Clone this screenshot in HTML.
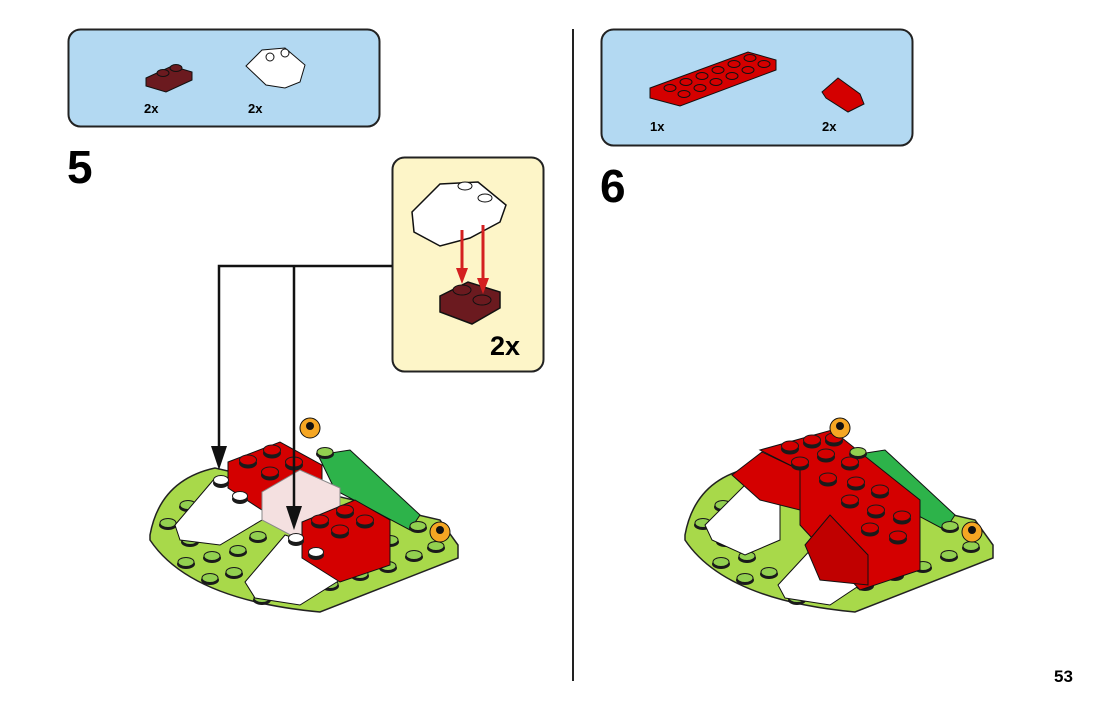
<!DOCTYPE html>
<html><head><style>
body{margin:0;width:1106px;height:709px;background:#fff;overflow:hidden;font-family:"Liberation Sans",Arial,sans-serif}
</style></head><body>
<svg width="1106" height="709" viewBox="0 0 1106 709" xmlns="http://www.w3.org/2000/svg" font-family="Liberation Sans, Arial, sans-serif">
<defs>
<g id="gs"><ellipse cx="0" cy="2" rx="9" ry="5" fill="#1a1a1a"/><ellipse cx="0" cy="0" rx="8" ry="4.5" fill="#92d050" stroke="#1a1a1a"/></g>
<g id="rs"><ellipse cx="0" cy="3" rx="9" ry="5.5" fill="#1a1a1a"/><ellipse cx="0" cy="0" rx="8.5" ry="5" fill="#d40000" stroke="#1a1a1a"/></g>
<g id="ws"><ellipse cx="0" cy="3" rx="8" ry="5" fill="#1a1a1a"/><ellipse cx="0" cy="0" rx="7.5" ry="4.5" fill="#fff" stroke="#1a1a1a"/></g>
</defs>
<!-- parts boxes -->
<rect x="68.5" y="29.5" width="311" height="97" rx="12" fill="#b3d9f2" stroke="#222" stroke-width="2"/>
<rect x="601.5" y="29.5" width="311" height="116" rx="12" fill="#b3d9f2" stroke="#222" stroke-width="2"/>
<line x1="573" y1="29" x2="573" y2="681" stroke="#222" stroke-width="2"/>
<!-- part left 1 -->
<polygon points="146,78 172,66 192,72 192,80 166,92 146,86" fill="#6b1a1f" stroke="#111"/>
<ellipse cx="163" cy="73" rx="6" ry="3.5" fill="#6b1a1f" stroke="#111"/><ellipse cx="176" cy="68" rx="6" ry="3.5" fill="#6b1a1f" stroke="#111"/>
<polygon points="246,66 262,50 285,48 305,65 300,82 285,88 266,85" fill="#fff" stroke="#111"/>
<circle cx="270" cy="57" r="4" fill="#fff" stroke="#111"/><circle cx="285" cy="53" r="4" fill="#fff" stroke="#111"/>
<text x="144" y="113" font-size="13" font-weight="bold">2x</text>
<text x="248" y="113" font-size="13" font-weight="bold">2x</text>
<!-- part right -->
<polygon points="650,88 748,52 776,60 776,70 680,106 650,98" fill="#d40000" stroke="#111"/>
<g fill="#d40000" stroke="#111"><ellipse cx="670" cy="88" rx="6" ry="3.5"/><ellipse cx="686" cy="82" rx="6" ry="3.5"/><ellipse cx="702" cy="76" rx="6" ry="3.5"/><ellipse cx="718" cy="70" rx="6" ry="3.5"/><ellipse cx="734" cy="64" rx="6" ry="3.5"/><ellipse cx="750" cy="58" rx="6" ry="3.5"/>
<ellipse cx="684" cy="94" rx="6" ry="3.5"/><ellipse cx="700" cy="88" rx="6" ry="3.5"/><ellipse cx="716" cy="82" rx="6" ry="3.5"/><ellipse cx="732" cy="76" rx="6" ry="3.5"/><ellipse cx="748" cy="70" rx="6" ry="3.5"/><ellipse cx="764" cy="64" rx="6" ry="3.5"/></g>
<polygon points="822,92 838,78 860,94 864,104 848,112 826,98" fill="#d40000" stroke="#111"/>
<text x="650" y="131" font-size="13" font-weight="bold">1x</text>
<text x="822" y="131" font-size="13" font-weight="bold">2x</text>
<text x="67" y="183" font-size="46" font-weight="bold">5</text>
<text x="600" y="202" font-size="46" font-weight="bold">6</text>
<text x="1054" y="682" font-size="17" font-weight="bold">53</text>
<!-- callout -->
<rect x="392.5" y="157.5" width="151" height="214" rx="12" fill="#fdf5c8" stroke="#222" stroke-width="2"/>
<polygon points="412,212 440,184 478,182 506,205 500,222 470,238 440,246 414,232" fill="#fff" stroke="#111" stroke-width="1.5"/>
<ellipse cx="465" cy="186" rx="7" ry="4" fill="#fff" stroke="#111"/><ellipse cx="485" cy="198" rx="7" ry="4" fill="#fff" stroke="#111"/>
<polygon points="440,296 468,282 500,292 500,308 472,324 440,312" fill="#6b1a1f" stroke="#111" stroke-width="1.5"/>
<ellipse cx="462" cy="290" rx="9" ry="5" fill="#6b1a1f" stroke="#111"/><ellipse cx="482" cy="300" rx="9" ry="5" fill="#6b1a1f" stroke="#111"/>
<line x1="462" y1="230" x2="462" y2="272" stroke="#d42020" stroke-width="3"/><polygon points="456,268 468,268 462,284" fill="#d42020"/>
<line x1="483" y1="225" x2="483" y2="282" stroke="#d42020" stroke-width="3"/><polygon points="477,278 489,278 483,294" fill="#d42020"/>
<text x="490" y="355" font-size="27" font-weight="bold">2x</text>
<!-- step 5 model -->
<path d="M150,535 Q160,480 215,468 L440,520 L458,545 L458,558 L320,612 Q190,600 150,540 Z" fill="#a8d94a" stroke="#222" stroke-width="1.5"/>
<polygon points="318,455 350,450 420,515 410,530 335,490" fill="#2db34a" stroke="#111"/>
<g>
<use href="#gs" x="168" y="523"/><use href="#gs" x="190" y="540"/><use href="#gs" x="212" y="556"/><use href="#gs" x="234" y="572"/><use href="#gs" x="262" y="598"/>
<use href="#gs" x="186" y="562"/><use href="#gs" x="210" y="578"/><use href="#gs" x="238" y="550"/><use href="#gs" x="290" y="593"/><use href="#gs" x="330" y="584"/><use href="#gs" x="360" y="574"/><use href="#gs" x="388" y="566"/><use href="#gs" x="414" y="555"/><use href="#gs" x="436" y="546"/><use href="#gs" x="390" y="540"/><use href="#gs" x="258" y="536"/><use href="#gs" x="188" y="505"/>
</g>
<polygon points="175,525 215,478 262,492 262,520 220,545 180,540" fill="#fff" stroke="#111"/>
<polygon points="228,462 280,442 322,465 322,492 265,512 228,488" fill="#d40000" stroke="#111"/>
<polygon points="262,492 300,470 340,488 340,520 300,540 262,520" fill="#f4e0e0" stroke="#888"/>
<use href="#rs" x="248" y="460"/><use href="#rs" x="272" y="450"/><use href="#rs" x="270" y="472"/><use href="#rs" x="294" y="462"/>
<use href="#ws" x="221" y="480"/><use href="#ws" x="240" y="496"/>
<polygon points="245,582 285,535 300,540 340,560 340,580 300,605 255,598" fill="#fff" stroke="#111"/>
<polygon points="302,522 355,500 390,520 390,565 340,582 302,558" fill="#d40000" stroke="#111"/>
<use href="#rs" x="320" y="520"/><use href="#rs" x="345" y="510"/><use href="#rs" x="340" y="530"/><use href="#rs" x="365" y="520"/>
<use href="#ws" x="296" y="538"/><use href="#ws" x="316" y="552"/>
<circle cx="310" cy="428" r="10" fill="#f5a623" stroke="#111"/><circle cx="310" cy="426" r="4" fill="#111"/>
<circle cx="440" cy="532" r="10" fill="#f5a623" stroke="#111"/><circle cx="440" cy="530" r="4" fill="#111"/>
<use href="#gs" x="325" y="452"/><use href="#gs" x="418" y="526"/>
<!-- arrows -->
<polyline points="392,266 219,266 219,452" fill="none" stroke="#111" stroke-width="2.5"/>
<polyline points="294,266 294,512" fill="none" stroke="#111" stroke-width="2.5"/>
<polygon points="211,446 227,446 219,470" fill="#111"/>
<polygon points="286,506 302,506 294,530" fill="#111"/>
<!-- step 6 model -->
<path d="M685,535 Q695,480 750,468 L975,520 L993,545 L993,558 L855,612 Q725,600 685,540 Z" fill="#a8d94a" stroke="#222" stroke-width="1.5"/>
<polygon points="853,455 885,450 955,515 945,530 870,490" fill="#2db34a" stroke="#111"/>
<use href="#gs" x="703" y="523"/><use href="#gs" x="725" y="540"/><use href="#gs" x="747" y="556"/><use href="#gs" x="769" y="572"/><use href="#gs" x="797" y="598"/>
<use href="#gs" x="721" y="562"/><use href="#gs" x="745" y="578"/><use href="#gs" x="825" y="593"/><use href="#gs" x="865" y="584"/><use href="#gs" x="895" y="574"/><use href="#gs" x="923" y="566"/><use href="#gs" x="949" y="555"/><use href="#gs" x="971" y="546"/><use href="#gs" x="723" y="505"/>
<polygon points="705,525 745,485 780,500 780,540 745,555 712,540" fill="#fff" stroke="#111"/>
<polygon points="778,585 815,545 840,555 860,585 830,605 785,598" fill="#fff" stroke="#111"/>
<polygon points="732,475 762,452 800,470 800,510 760,500" fill="#d40000" stroke="#111"/>
<polygon points="760,450 832,430 920,500 920,570 860,590 800,525 800,470" fill="#d40000" stroke="#111"/>
<polygon points="805,545 830,515 868,555 868,585 820,580" fill="#c00000" stroke="#111"/>
<g><use href="#rs" x="790" y="446"/><use href="#rs" x="812" y="440"/><use href="#rs" x="834" y="438"/><use href="#rs" x="800" y="462"/><use href="#rs" x="826" y="454"/><use href="#rs" x="850" y="462"/><use href="#rs" x="828" y="478"/><use href="#rs" x="856" y="482"/><use href="#rs" x="880" y="490"/><use href="#rs" x="850" y="500"/><use href="#rs" x="876" y="510"/><use href="#rs" x="902" y="516"/><use href="#rs" x="870" y="528"/><use href="#rs" x="898" y="536"/></g>
<circle cx="840" cy="428" r="10" fill="#f5a623" stroke="#111"/><circle cx="840" cy="426" r="4" fill="#111"/>
<circle cx="972" cy="532" r="10" fill="#f5a623" stroke="#111"/><circle cx="972" cy="530" r="4" fill="#111"/>
<use href="#gs" x="858" y="452"/><use href="#gs" x="950" y="526"/>
</svg>
</body></html>
